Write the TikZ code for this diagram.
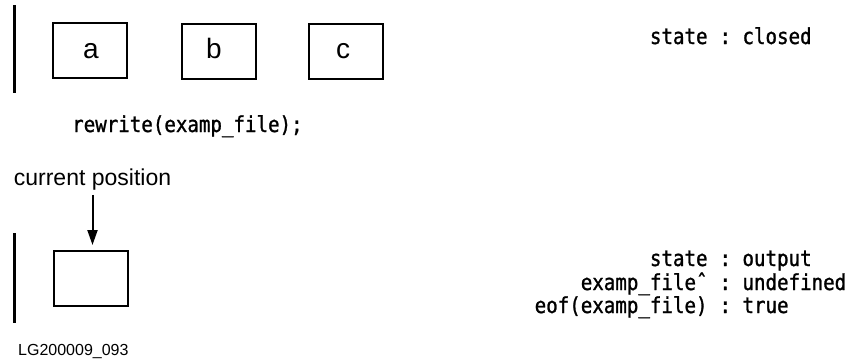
\documentclass[tikz,border=0pt]{standalone}
\usepackage{fontspec}
\setmainfont{Liberation Sans}
\newfontfamily\monofnt[FakeStretch=0.87,FakeBold=1.2]{DejaVu Sans Mono}
\usetikzlibrary{arrows.meta}
\tikzset{
  cell/.style={draw, line width=2pt, minimum width=74pt, minimum height=55pt, inner sep=0pt},
  letter/.style={anchor=base, inner sep=0pt, font=\fontsize{28}{30}\selectfont},
  code/.style={inner sep=0pt, font=\monofnt\fontsize{22}{24}\selectfont},
  bar/.style={line width=2.5pt},
  arr/.style={line width=2pt, -{Triangle[length=15pt,width=10pt]}},
}
\begin{document}
\begin{tikzpicture}[x=1pt,y=-1pt]
\useasboundingbox (0,0) rectangle (857,362);
% top row
\draw[bar] (14.5,5) coordinate (t1) -- (14.5,93) coordinate (t2);
\node[cell] (ba) at (90,50.5) {};
\node[cell] (bb) at (219,51) {};
\node[cell] (bc) at (346,51.5) {};
\node[letter] (la) at (91,58) {a};
\node[letter] (lb) at (214,58) {b};
\node[letter] (lc) at (343,58) {c};
\node[code, anchor=base west] (rw) at (72,132) {rewrite(examp\_file);};
% right state top
\node[code, anchor=base east] (s1l) at (707.75,44) {state};
\node[code, anchor=base west] (s1r) at (719.25,44) {:\ closed};
% bottom
\node[inner sep=0pt, anchor=base, font=\fontsize{23}{25}\selectfont] (cur) at (92.5,185) {current position};
\draw[bar] (14.5,233) coordinate (b1) -- (14.5,323) coordinate (b2);
\node[cell] (bd) at (90.5,278.5) {};
\draw[arr, shorten <=5pt, shorten >=5pt] (cur.south) -- (cur.south |- bd.north);
\node[code, anchor=base east] (s2l) at (707.75,266) {state};
\node[code, anchor=base west] (s2r) at (719.25,266) {:\ output};
\node[code, anchor=base east] (s3l) at (707.75,290) {examp\_fileˆ};
\node[code, anchor=base west] (s3r) at (719.25,290) {:\ undefined};
\node[code, anchor=base east] (s4l) at (707.75,313) {eof(examp\_file)};
\node[code, anchor=base west] (s4r) at (719.25,313) {:\ true};
\node[inner sep=0pt, anchor=base west, font=\fontsize{16}{18}\selectfont] (lg) at (18,355) {LG200009\_093};
\end{tikzpicture}
\end{document}
